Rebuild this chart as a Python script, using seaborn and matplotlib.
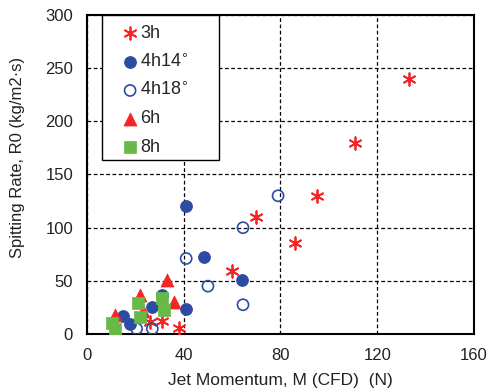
import matplotlib
matplotlib.use("Agg")
import matplotlib.pyplot as plt
from matplotlib.patches import Rectangle
import seaborn as sns
import pandas as pd

x_3h = [26, 31, 38, 60, 70, 86, 95, 111, 133]
y_3h = [11, 12, 6, 59, 110, 86, 130, 180, 240]
x_4h14 = [14.7, 17.8, 27, 31, 41, 41, 48.5, 64]
y_4h14 = [17, 9, 25, 37, 23.5, 120, 72, 51]
x_4h18 = [20.5, 27, 41, 50, 64.5, 64.5, 79]
y_4h18 = [5, 5, 71, 45, 27.5, 100, 130]
x_6h = [11.5, 12.5, 22, 23, 33, 36]
y_6h = [18, 2, 37, 22, 51, 30]
x_8h = [10.5, 11.5, 21, 22, 31, 32]
y_8h = [10, 5, 29, 16, 34, 23]

labels = ["3h", "4h14$^{\\circ}$", "4h18$^{\\circ}$", "6h", "8h"]
xticks = [0, 40, 80, 120, 160]
yticks = [0, 50, 100, 150, 200, 250, 300]

sns.set_style("white")
plt.rcParams['font.family'] = ['Liberation Sans', 'DejaVu Sans']

fig = plt.figure(figsize=(4.89, 3.92), dpi=100)
ax = fig.add_axes([87/489, 1-334/392, (474-87)/489, (334-15)/392])

red = "#f52525"
blue = "#2c4ca4"
green = "#68ba48"

series = [
    (x_3h, y_3h, labels[0], dict(marker=(6, 2, 0), s=80, color=red, linewidth=1.3)),
    (x_4h14, y_4h14, labels[1], dict(marker="o", s=70, color=blue, edgecolor=blue, linewidth=0.8)),
    (x_4h18, y_4h18, labels[2], dict(marker="o", s=64, facecolor="none", edgecolor=blue, linewidth=1.2)),
    (x_6h, y_6h, labels[3], dict(marker="^", s=88, color=red, edgecolor=red, linewidth=0.5)),
    (x_8h, y_8h, labels[4], dict(marker="s", s=75, color=green, edgecolor=green, linewidth=0.5)),
]
for xs, ys, lab, kw in series:
    df = pd.DataFrame({"x": xs, "y": ys})
    sns.scatterplot(data=df, x="x", y="y", ax=ax, label=lab, zorder=3, **kw)

ax.set_xlim(0, 160)
ax.set_ylim(0, 300)
ax.set_xticks(xticks)
ax.set_yticks(yticks)
ax.grid(True, color="black", linestyle=(0, (3, 2)), linewidth=0.9)
ax.set_axisbelow(True)
for sp in ax.spines.values():
    sp.set_color("black")
    sp.set_linewidth(1.5)
ax.tick_params(axis="both", length=0, labelsize=12, colors="#222222")
ax.tick_params(axis="x", pad=10)
ax.tick_params(axis="y", pad=10)
ax.set_xlabel("Jet Momentum, M (CFD)  (N)", fontsize=12.5, labelpad=7, color="#222222")
ax.set_ylabel("Spitting Rate, R0 (kg/m2\u00b7s)", fontsize=12, color="#222222")
ax.yaxis.set_label_coords(-0.16, 0.555)

# legend box
ax.add_patch(Rectangle((0.039, 0.545), 0.302, 0.455, transform=ax.transAxes,
                       facecolor="white", edgecolor="black", linewidth=1.0, zorder=4))
leg = ax.legend(loc="upper left", bbox_to_anchor=(0.088, 0.968), frameon=False,
                fontsize=13, labelspacing=0.62, handletextpad=0.05, borderpad=0,
                handlelength=1.0, borderaxespad=0)
leg.set_zorder(5)

fig.savefig("out.png", dpi=100)
